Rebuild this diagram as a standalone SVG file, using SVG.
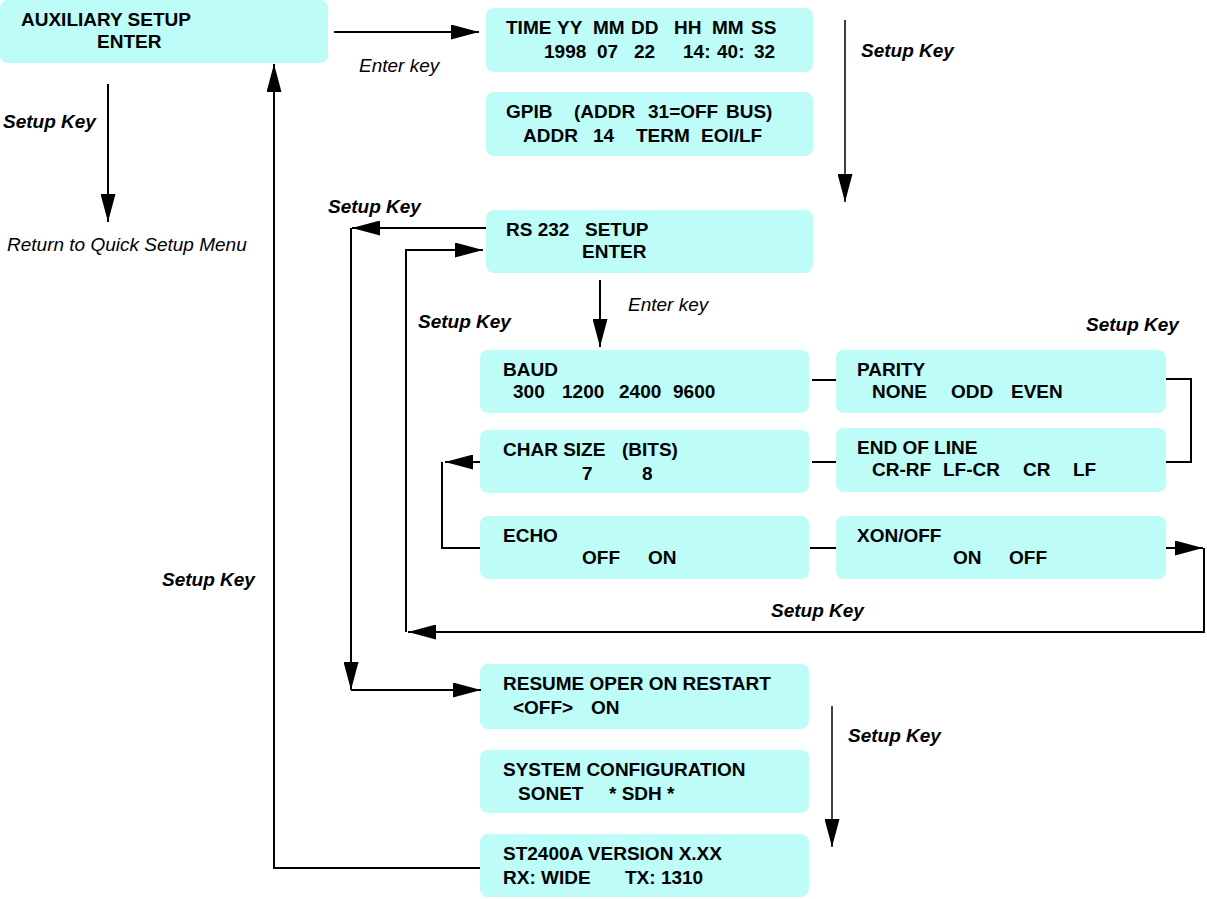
<svg xmlns="http://www.w3.org/2000/svg" width="1207" height="899" viewBox="0 0 1207 899">
<style>
.box{fill:#BEFDF7;stroke:none}
.t{font-family:"Liberation Sans",Arial,sans-serif;font-weight:bold;font-size:19px;fill:#000}
.bi{font-family:"Liberation Sans",Arial,sans-serif;font-weight:bold;font-style:italic;font-size:19px;fill:#000}
.i{font-family:"Liberation Sans",Arial,sans-serif;font-style:italic;font-size:19px;fill:#000}
.c{fill:none;stroke:#000;stroke-width:2}
.a{marker-end:url(#ah)}
</style>
<defs>
<marker id="ah" markerUnits="userSpaceOnUse" markerWidth="28" markerHeight="15" refX="28" refY="7.5" orient="auto" viewBox="0 0 28 15">
<path d="M0,0 L28,7.5 L0,15 z" fill="#000"/>
</marker>
</defs>
<rect width="1207" height="899" fill="#fff"/>

<g id="n-aux"><rect class="box" x="0" y="0" width="328" height="63" rx="8"/>
<text class="t" x="21" y="26">AUXILIARY SETUP</text><text class="t" x="97" y="48">ENTER</text></g>

<g id="n-time"><rect class="box" x="486" y="8" width="327" height="64" rx="8"/>
<text class="t" y="34"><tspan x="506">TIME</tspan><tspan x="557">YY</tspan><tspan x="593">MM</tspan><tspan x="631">DD</tspan><tspan x="674">HH</tspan><tspan x="712">MM</tspan><tspan x="751">SS</tspan></text>
<text class="t" y="58"><tspan x="544">1998</tspan><tspan x="597">07</tspan><tspan x="634">22</tspan><tspan x="683">14:</tspan><tspan x="717">40:</tspan><tspan x="754">32</tspan></text></g>

<g id="n-gpib"><rect class="box" x="486" y="92" width="327" height="64" rx="8"/>
<text class="t" y="118"><tspan x="506">GPIB</tspan><tspan x="574">(ADDR</tspan><tspan x="648">31=OFF</tspan><tspan x="726">BUS)</tspan></text>
<text class="t" y="142"><tspan x="523">ADDR</tspan><tspan x="593">14</tspan><tspan x="636">TERM</tspan><tspan x="701">EOI/LF</tspan></text></g>

<g id="n-rs232"><rect class="box" x="486" y="210" width="327" height="63" rx="8"/>
<text class="t" y="236"><tspan x="506">RS 232</tspan><tspan x="585">SETUP</tspan></text>
<text class="t" x="582" y="258">ENTER</text></g>

<g id="n-baud"><rect class="box" x="480" y="350" width="329" height="63" rx="8"/>
<text class="t" x="503" y="376">BAUD</text>
<text class="t" y="398"><tspan x="513">300</tspan><tspan x="562">1200</tspan><tspan x="619">2400</tspan><tspan x="673">9600</tspan></text></g>

<g id="n-char"><rect class="box" x="480" y="430" width="329" height="63" rx="8"/>
<text class="t" y="456"><tspan x="503">CHAR SIZE</tspan><tspan x="622">(BITS)</tspan></text>
<text class="t" y="480"><tspan x="582">7</tspan><tspan x="642">8</tspan></text></g>

<g id="n-echo"><rect class="box" x="480" y="516" width="329" height="63" rx="8"/>
<text class="t" x="503" y="542">ECHO</text>
<text class="t" y="564"><tspan x="582">OFF</tspan><tspan x="648">ON</tspan></text></g>

<g id="n-parity"><rect class="box" x="836" y="350" width="330" height="63" rx="8"/>
<text class="t" x="857" y="376">PARITY</text>
<text class="t" y="398"><tspan x="872">NONE</tspan><tspan x="951">ODD</tspan><tspan x="1011">EVEN</tspan></text></g>

<g id="n-eol"><rect class="box" x="836" y="428" width="330" height="64" rx="8"/>
<text class="t" x="857" y="454">END OF LINE</text>
<text class="t" y="476"><tspan x="872">CR-RF</tspan><tspan x="943">LF-CR</tspan><tspan x="1023">CR</tspan><tspan x="1073">LF</tspan></text></g>

<g id="n-xon"><rect class="box" x="836" y="516" width="330" height="63" rx="8"/>
<text class="t" x="857" y="542">XON/OFF</text>
<text class="t" y="564"><tspan x="953">ON</tspan><tspan x="1009">OFF</tspan></text></g>

<g id="n-resume"><rect class="box" x="480" y="664" width="329" height="65" rx="8"/>
<text class="t" x="503" y="690">RESUME OPER ON RESTART</text>
<text class="t" y="714"><tspan x="513">&lt;OFF&gt;</tspan><tspan x="591">ON</tspan></text></g>

<g id="n-sys"><rect class="box" x="480" y="750" width="329" height="63" rx="8"/>
<text class="t" x="503" y="776">SYSTEM CONFIGURATION</text>
<text class="t" y="800"><tspan x="518">SONET</tspan><tspan x="609">* SDH *</tspan></text></g>

<g id="n-ver"><rect class="box" x="480" y="834" width="329" height="63" rx="8"/>
<text class="t" x="503" y="860">ST2400A VERSION X.XX</text>
<text class="t" y="884"><tspan x="503">RX: WIDE</tspan><tspan x="625">TX: 1310</tspan></text></g>

<g id="connectors">
<path class="c a" d="M334,32 H479"/>
<path class="c a" d="M845,20 V202" style="stroke-width:1.5"/>
<path class="c a" d="M108,84 V222"/>
<path class="c a" d="M480,868 H274 V64"/>
<path class="c a" d="M486,228 H352"/>
<path class="c a" d="M351,228 V690"/>
<path class="c a" d="M351,690 H481"/>
<path class="c a" d="M1166,548 H1203"/>
<path class="c a" d="M1204,548 V632 H408"/>
<path class="c a" d="M406,632 V250 H483"/>
<path class="c a" d="M600,280 V347"/>
<path class="c" d="M812,380 H836"/>
<path class="c" d="M812,462 H836"/>
<path class="c" d="M810,548 H836"/>
<path class="c" d="M1166,379 H1191 V462 H1166"/>
<path class="c" d="M480,548 H442 V462"/>
<path class="c a" d="M480,462 H445"/>
<path class="c a" d="M832,706 V847" style="stroke-width:1.5"/>
</g>

<g id="labels">
<text class="i" x="359" y="72">Enter key</text>
<text class="bi" x="3" y="128">Setup Key</text>
<text class="i" x="7" y="251">Return to Quick Setup Menu</text>
<text class="bi" x="861" y="57">Setup Key</text>
<text class="bi" x="328" y="213">Setup Key</text>
<text class="bi" x="418" y="328">Setup Key</text>
<text class="i" x="628" y="311">Enter key</text>
<text class="bi" x="1086" y="331">Setup Key</text>
<text class="bi" x="162" y="586">Setup Key</text>
<text class="bi" x="771" y="617">Setup Key</text>
<text class="bi" x="848" y="742">Setup Key</text>
</g>
</svg>
